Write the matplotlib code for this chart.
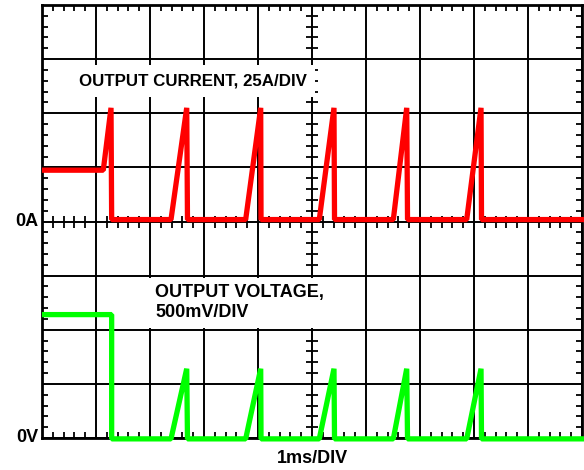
import numpy as np
import matplotlib.pyplot as plt

plt.rcParams['font.family'] = ['Liberation Sans', 'DejaVu Sans']

# scope trace, time in ms (1ms/DIV)
t_cur = [0, 1.135, 1.278, 1.29, 2.389, 2.68, 2.694, 3.772, 4.05, 4.056,
         5.135, 5.407, 5.417, 6.506, 6.754, 6.769, 7.865, 8.13, 8.139, 10.05]
i_cur = [23.7, 23.7, 52.5, 0.9, 0.9, 52.5, 0.9, 0.9, 52.5, 0.9,
         0.9, 52.5, 0.9, 0.9, 52.5, 0.9, 0.9, 52.5, 0.9, 0.9]  # A

t_vol = [0, 1.29, 1.29, 2.389, 2.68, 2.694, 3.772, 4.05, 4.056,
         5.135, 5.407, 5.417, 6.506, 6.754, 6.769, 7.865, 8.13, 8.139, 10.05]
v_out = [1140, 1140, -8, -8, 640, -8, -8, 640, -8,
         -8, 640, -8, -8, 640, -8, -8, 640, -8, -8]  # mV

A_PER_DIV = 25
MV_PER_DIV = 500
I_ZERO_DIV = 4  # 0A sits on the 4th division

fig = plt.figure(figsize=(5.84, 4.70), dpi=100)
ax = fig.add_axes([42/584, 32/470, 540/584, 433/470])
ax.set_xlim(0, 10)
ax.set_ylim(0, 8)

ax.set_xticks(np.arange(0, 11, 1))
ax.set_yticks(np.arange(0, 9, 1))
ax.set_xticks(np.arange(0, 10.01, 0.2), minor=True)
ax.set_yticks(np.arange(0, 8.01, 0.2), minor=True)
ax.grid(True, which='major', color='black', lw=1.4, zorder=1)
ax.tick_params(which='major', length=0, labelbottom=False, labelleft=False)
ax.tick_params(which='minor', direction='in', length=4, width=1.3,
               top=True, right=True, color='black')
for s in ax.spines.values():
    s.set_linewidth(2)

# ticks on the centre cross lines
mx = np.array([x for x in np.arange(0.2, 10, 0.2) if abs(x - round(x)) > 0.05])
my = np.array([y for y in np.arange(0.2, 8, 0.2) if abs(y - round(y)) > 0.05])
ax.plot(mx, np.full(len(mx), 4.0), ls='none', marker='|', ms=8, mew=1.3, color='black', zorder=2)
ax.plot(np.full(len(my), 5.0), my, ls='none', marker='_', ms=8, mew=1.3, color='black', zorder=2)

ax.plot(t_cur, I_ZERO_DIV + np.array(i_cur) / A_PER_DIV, color='#ff0000', lw=3.8,
        solid_joinstyle='bevel', solid_capstyle='butt', zorder=4, clip_on=False)
ax.plot(t_vol, np.array(v_out) / MV_PER_DIV, color='#00ff00', lw=3.8,
        solid_joinstyle='bevel', solid_capstyle='butt', zorder=4, clip_on=False)

ax.text(0.68, 6.6, 'OUTPUT CURRENT, 25A/DIV', fontsize=12.2, fontweight='bold',
        ha='left', va='center', zorder=3,
        bbox=dict(facecolor='white', edgecolor='none', pad=6))
ax.text(2.1, 2.5, 'OUTPUT VOLTAGE,\n500mV/DIV', fontsize=13, fontweight='bold',
        ha='left', va='center', linespacing=1.2, zorder=3,
        bbox=dict(facecolor='white', edgecolor='none', pad=5))

ax.text(-0.07, 4, '0A', fontsize=13, fontweight='bold', ha='right', va='center', clip_on=False)
ax.text(-0.07, 0, '0V', fontsize=13, fontweight='bold', ha='right', va='center', clip_on=False)
ax.text(5, -0.38, '1ms/DIV', fontsize=13, fontweight='bold', ha='center', va='center', clip_on=False)

fig.savefig('out.png', dpi=100)
